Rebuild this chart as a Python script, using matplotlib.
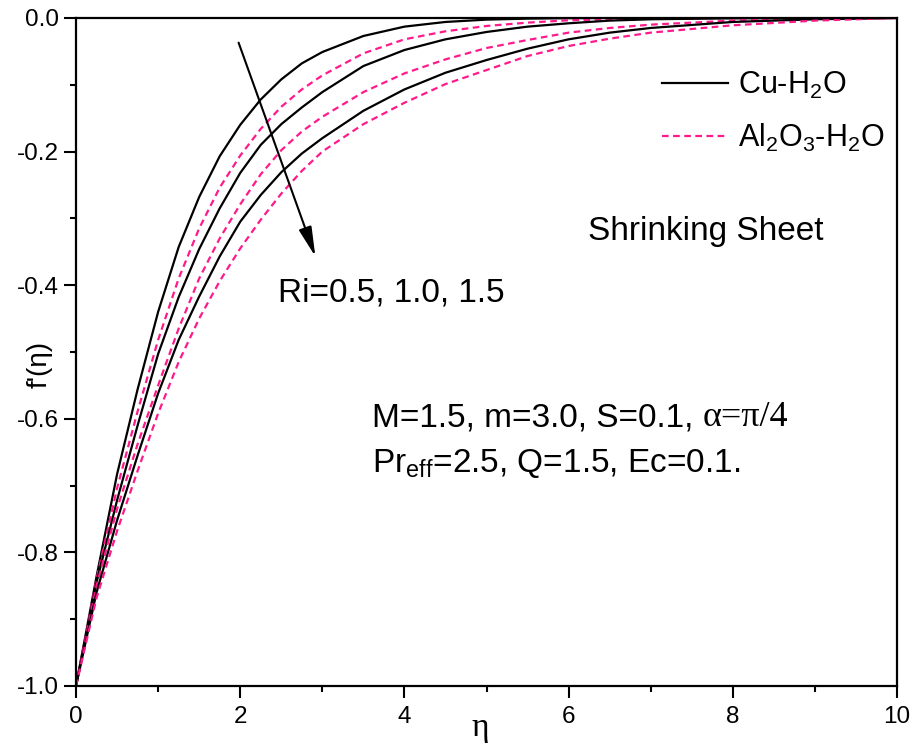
# f'(eta) profiles, shrinking sheet, Cu-H2O vs Al2O3-H2O for three Ri values

import matplotlib
matplotlib.use('Agg')
from matplotlib import pyplot as plt
from matplotlib.ticker import MultipleLocator

plt.rcParams['font.family'] = ['Liberation Sans', 'DejaVu Sans']
plt.rcParams['mathtext.fontset'] = 'custom'
plt.rcParams['mathtext.rm'] = 'Liberation Sans'
plt.rcParams['mathtext.it'] = 'Liberation Sans:italic'
plt.rcParams['axes.unicode_minus'] = False

# values
eta = [0, 0.25, 0.5, 0.75, 1.0, 1.25, 1.5, 1.75, 2.0, 2.25, 2.5, 2.75, 3.0,
       3.5, 4.0, 4.5, 5.0, 5.5, 6.0, 6.5, 7.0, 8.0, 9.0, 10.0]

cu_ri05 = [-1.000, -0.836, -0.683, -0.556, -0.440, -0.343, -0.268, -0.207,
           -0.160, -0.122, -0.092, -0.068, -0.051, -0.027, -0.013, -0.006,
           -0.0025, -0.001, -0.0003, 0, 0, 0, 0, 0]
cu_ri10 = [-1.000, -0.845, -0.722, -0.610, -0.503, -0.418, -0.346, -0.285,
           -0.232, -0.190, -0.159, -0.134, -0.111, -0.072, -0.048, -0.032,
           -0.021, -0.013, -0.008, -0.004, -0.002, -0.0005, 0, 0]
cu_ri15 = [-1.000, -0.860, -0.752, -0.655, -0.562, -0.482, -0.417, -0.357,
           -0.305, -0.265, -0.231, -0.203, -0.180, -0.139, -0.107, -0.082,
           -0.063, -0.046, -0.032, -0.022, -0.015, -0.006, -0.002, 0]

al_ri05 = [-1.000, -0.840, -0.704, -0.589, -0.482, -0.390, -0.315, -0.254,
           -0.206, -0.166, -0.133, -0.107, -0.086, -0.053, -0.032, -0.020,
           -0.012, -0.007, -0.0035, -0.002, -0.001, 0, 0, 0]
al_ri10 = [-1.000, -0.850, -0.735, -0.638, -0.550, -0.465, -0.390, -0.330,
           -0.279, -0.234, -0.198, -0.170, -0.148, -0.111, -0.083, -0.062,
           -0.045, -0.033, -0.022, -0.015, -0.010, -0.004, -0.001, 0]
al_ri15 = [-1.000, -0.868, -0.768, -0.678, -0.592, -0.515, -0.450, -0.394,
           -0.345, -0.302, -0.263, -0.229, -0.200, -0.159, -0.127, -0.099,
           -0.078, -0.057, -0.042, -0.031, -0.022, -0.011, -0.004, 0]

cu_series = [cu_ri05, cu_ri10, cu_ri15]
al_series = [al_ri05, al_ri10, al_ri15]

pink = '#FF1A8C'

fig = plt.figure(figsize=(9.16, 7.51), dpi=100)
ax = fig.add_axes([0.0830, 0.0866, 0.8963, 0.8895])

for i in range(3):
    ax.plot(eta, cu_series[i], color='black', lw=1.6,
            label='Cu-H$_2$O' if i == 0 else None)
    ax.plot(eta, al_series[i], color=pink, lw=1.6, dashes=(3, 2),
            label='Al$_2$O$_3$-H$_2$O' if i == 0 else None)

ax.set_xlim(0, 10)
ax.set_ylim(-1.0, 0.0)
ax.xaxis.set_major_locator(MultipleLocator(2))
ax.xaxis.set_minor_locator(MultipleLocator(1))
ax.yaxis.set_major_locator(MultipleLocator(0.2))
ax.yaxis.set_minor_locator(MultipleLocator(0.1))
ax.yaxis.set_major_formatter(lambda v, p: '{:.1f}'.format(v).replace('-0.0', '0.0'))

for s in ax.spines.values():
    s.set_linewidth(1.6)
ax.tick_params(which='both', direction='out', width=1.5, labelsize=17.5,
               top=False, right=False)
ax.tick_params(which='major', length=8.5)
ax.tick_params(which='minor', length=4.5)
ax.tick_params(axis='x', pad=6)
ax.tick_params(axis='y', pad=4)

# axis labels
ax.text(0.492, -0.0755, 'η', transform=ax.transAxes, ha='center',
        va='baseline', fontsize=24, family=['Liberation Serif', 'DejaVu Serif'])
ax.text(-0.044, 0.482, "f'(η)", transform=ax.transAxes, ha='center',
        va='center', rotation=90, fontsize=20)

# legend
ax.legend(loc='upper left', bbox_to_anchor=(0.7135, 0.9225), frameon=False,
          fontsize=22, handlelength=2.15, handletextpad=0.35,
          labelspacing=0.68, borderpad=0, borderaxespad=0)

# annotations
ax.annotate('', xy=(2.915, -0.357), xytext=(1.98, -0.037),
            arrowprops=dict(arrowstyle='-|>,head_width=0.2,head_length=0.9',
                            color='black', lw=1.5, mutation_scale=20,
                            shrinkA=0, shrinkB=0))
ax.text(2.454, -0.4246, 'Ri=0.5, 1.0, 1.5', fontsize=24, va='baseline')
ax.text(6.24, -0.332, 'Shrinking Sheet', fontsize=24, va='baseline')
t1 = ax.text(3.61, -0.612, 'M=1.5, m=3.0, S=0.1, ', fontsize=24, va='baseline')
ax.annotate('α=π/4', xy=(1, 0), xycoords=t1, va='bottom', ha='left',
            fontsize=26, family=['Liberation Serif', 'DejaVu Serif'])
ax.text(3.61, -0.679, 'Pr$_{\\rm eff}$=2.5, Q=1.5, Ec=0.1.', fontsize=24,
        va='baseline')

plt.savefig('out.png', dpi=100)
